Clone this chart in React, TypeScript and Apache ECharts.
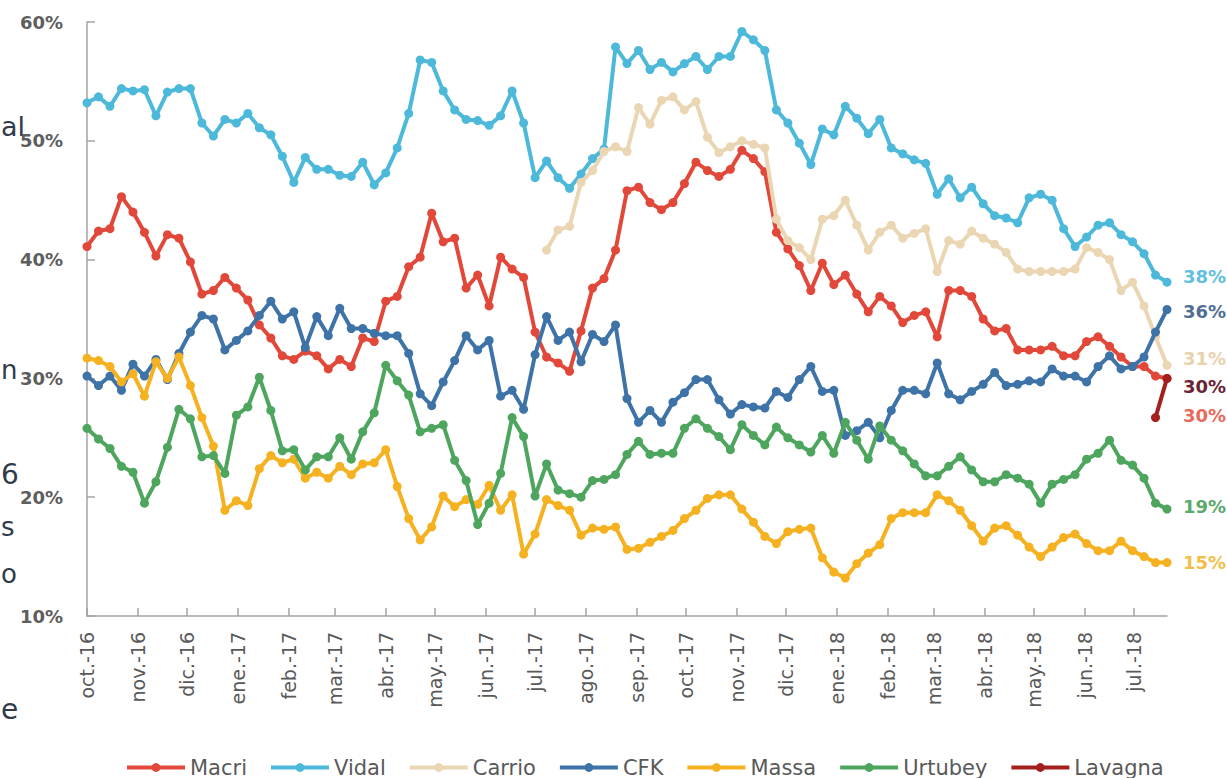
import React, { useEffect, useRef } from "react";
import * as echarts from "echarts";

// Month tick labels (first day of each month)
const monthLabels = [
  "oct.-16", "nov.-16", "dic.-16", "ene.-17", "feb.-17", "mar.-17", "abr.-17",
  "may.-17", "jun.-17", "jul.-17", "ago.-17", "sep.-17", "oct.-17", "nov.-17",
  "dic.-17", "ene.-18", "feb.-18", "mar.-18", "abr.-18", "may.-18", "jun.-18", "jul.-18",
];
const firstWeek = Date.UTC(2016, 9, 1); // weekly polls, first on 1 Oct 2016

const seriesNames = ["Macri", "Vidal", "Carrio", "CFK", "Massa", "Urtubey", "Lavagna"];

const macri = [
  41.1, 42.4, 42.6, 45.3, 44.0, 42.3, 40.3, 42.1, 41.8, 39.8, 37.1, 37.4, 38.5, 37.6, 36.6, 34.5, 33.4, 31.9, 31.6, 32.3, 31.9, 30.8, 31.6, 31.0, 33.4,
  33.1, 36.5, 36.9, 39.4, 40.2, 43.9, 41.5, 41.8, 37.6, 38.7, 36.1, 40.2, 39.2, 38.5, 33.9, 31.8, 31.3, 30.6, 34.0, 37.6, 38.4, 40.8, 45.8, 46.1,
  44.8, 44.2, 44.8, 46.4, 48.2, 47.5, 47.0, 47.6, 49.2, 48.5, 47.4, 42.3, 40.9, 39.5, 37.4, 39.7, 37.9, 38.7, 37.1, 35.6, 36.9, 36.1, 34.7, 35.3,
  35.6, 33.5, 37.4, 37.4, 36.9, 35.0, 34.0, 34.2, 32.4, 32.4, 32.4, 32.7, 31.9, 31.9, 33.1, 33.5, 32.7, 31.8, 31.0, 31.0, 30.2, 30.0,
];
const vidal = [
  53.2, 53.7, 52.9, 54.4, 54.2, 54.3, 52.1, 54.1, 54.4, 54.4, 51.5, 50.4, 51.8, 51.5, 52.3, 51.1, 50.5, 48.7, 46.5, 48.6, 47.6, 47.6, 47.1, 47.0, 48.2,
  46.3, 47.3, 49.4, 52.3, 56.8, 56.6, 54.2, 52.6, 51.8, 51.7, 51.3, 52.1, 54.2, 51.5, 46.9, 48.3, 46.9, 46.0, 47.2, 48.5, 49.3,
  57.9, 56.5, 57.6, 56.0, 56.6, 55.8, 56.5, 57.1, 56.0, 57.1, 57.1, 59.2, 58.5, 57.6, 52.6, 51.5, 49.8, 48.0, 51.0, 50.5, 52.9, 51.9, 50.6, 51.8, 49.4, 48.9, 48.4,
  48.1, 45.5, 46.8, 45.2, 46.1, 44.7, 43.7, 43.5, 43.1, 45.2, 45.5, 45.0, 42.6, 41.1, 41.9, 42.9, 43.1, 42.1, 41.5, 40.5, 38.7, 38.1,
];
const carrioStartWeek = 40;
const carrio = [
  40.8, 42.5, 42.8, 46.5, 47.5, 49.1, 49.5, 49.1, 52.8, 51.4,
  53.4, 53.7, 52.6, 53.3, 50.3, 49.0, 49.5, 50.0, 49.7, 49.4,
  43.4, 41.6, 41.0, 40.0, 43.4, 43.7, 45.0, 42.9, 40.8, 42.3,
  42.9, 41.8, 42.2, 42.6, 39.0, 41.6, 41.3, 42.4, 41.8, 41.3,
  40.6, 39.2, 39.0, 39.0, 39.0, 39.0, 39.2, 41.0, 40.6, 40.0,
  37.4, 38.1, 36.1, 33.5, 31.1,
];
const cfk = [
  30.2, 29.4, 30.2, 29.0, 31.2, 30.2, 31.6, 29.9, 32.1, 33.9, 35.3, 35.0, 32.4, 33.2, 34.0, 35.3, 36.5, 35.0, 35.6, 32.6, 35.2, 33.6, 35.9, 34.2, 34.2,
  33.8, 33.6, 33.6, 32.1, 28.7, 27.7, 29.7, 31.5, 33.6, 32.4, 33.2, 28.5, 29.0, 27.4, 32.0, 35.2, 33.2, 33.9, 31.4, 33.7, 33.1, 34.5, 28.3, 26.3,
  27.3, 26.3, 28.0, 28.8, 29.9, 29.9, 28.2, 27.0, 27.8, 27.6, 27.5, 28.9, 28.4, 29.9, 31.0, 28.9, 29.0, 25.2, 25.6, 26.3, 25.0, 27.3, 29.0, 29.0,
  28.7, 31.3, 28.7, 28.2, 28.9, 29.5, 30.5, 29.4, 29.5, 29.8, 29.7, 30.8, 30.2, 30.2, 29.7, 31.0, 31.9, 30.8, 31.0, 31.8, 33.9, 35.8,
];
const massa = [
  31.7, 31.5, 31.0, 29.7, 30.4, 28.5, 31.4, 30.0, 31.8, 29.4, 26.7, 24.3, 18.9, 19.7, 19.3, 22.4, 23.5, 22.9, 23.2, 21.6, 22.1, 21.6, 22.6, 21.9, 22.8,
  22.9, 24.0, 20.9, 18.2, 16.4, 17.5, 20.1, 19.2, 19.8, 19.4, 21.0, 18.9, 20.2, 15.2, 16.9, 19.8, 19.3, 18.9, 16.8, 17.4, 17.3, 17.5, 15.6, 15.7,
  16.2, 16.7, 17.2, 18.2, 18.9, 19.9, 20.2, 20.2, 19.0, 17.9, 16.7, 16.1, 17.1, 17.3, 17.4, 14.9, 13.7, 13.2, 14.4, 15.3, 16.0, 18.2, 18.7, 18.7,
  18.7, 20.2, 19.7, 18.9, 17.6, 16.3, 17.4, 17.6, 16.8, 15.8, 15.0, 15.8, 16.6, 16.9, 16.1, 15.5, 15.5, 16.3, 15.5, 15.0, 14.5, 14.5,
];
const urtubey = [
  25.8, 24.9, 24.1, 22.6, 22.1, 19.5, 21.3, 24.2, 27.4, 26.6, 23.4, 23.5, 22.0, 26.9, 27.6, 30.1, 27.3, 23.9, 24.0, 22.3, 23.4, 23.4, 25.0, 23.2, 25.5,
  27.1, 31.1, 29.8, 28.6, 25.5, 25.8, 26.1, 23.1, 21.4, 17.7, 19.5, 22.0, 26.7, 25.1, 20.1, 22.8, 20.6, 20.3, 20.0, 21.4, 21.5, 21.9, 23.6, 24.7,
  23.6, 23.7, 23.7, 25.8, 26.6, 25.8, 25.1, 24.0, 26.1, 25.2, 24.4, 25.9, 25.0, 24.4, 23.8, 25.2, 23.7, 26.3, 24.8, 23.2, 26.0, 24.8, 23.9, 22.8,
  21.8, 21.8, 22.6, 23.4, 22.3, 21.3, 21.3, 21.9, 21.6, 21.1, 19.5, 21.1, 21.5, 21.9, 23.2, 23.7, 24.8, 23.1, 22.7, 21.6, 19.5, 19.0,
];
const lavagnaStartWeek = 93;
const lavagna = [26.7, 30.0];

const endLabels = ["30%", "38%", "31%", "36%", "15%", "19%", "30%"];

// Fragments of slide text visible at the left edge of the picture
const sideFragments = ["al", "n", "6", "s", "o", "e"];

const colors = ["#E2483A", "#4DB9DA", "#EBD6B3", "#3E73A8", "#F5B120", "#4DA55E", "#A3201D"];
const labelColors = ["#E86A5C", "#62C0DE", "#E8D2AE", "#4F6F96", "#F1C04A", "#5BA96B", "#6B2431"];
const labelOffsetY = [37, -6, -7, 2, 0, -3, 8];
const fragmentPos = [
  { x: 1, y: 126, size: 27 },
  { x: 1, y: 370, size: 26 },
  { x: 1, y: 474, size: 28 },
  { x: 1, y: 527, size: 26 },
  { x: 1, y: 574, size: 26 },
  { x: 1, y: 709, size: 28 },
];

const FONT = "DejaVu Sans";
const DAY = 86400000;

const weekDay = (i: number) => i * 7;
const toPairs = (vals: number[], start: number) => vals.map((v, j) => [weekDay(start + j), v]);

export default function App() {
  const ref = useRef<HTMLDivElement>(null);

  useEffect(() => {
    if (!ref.current) return;
    const chart = echarts.init(ref.current, undefined, { renderer: "svg" });

    const monthDays = monthLabels.map((_, k) => Math.round((Date.UTC(2016, 9 + k, 1) - firstWeek) / DAY));
    const lastDay = weekDay(macri.length - 1);

    const allData = [
      toPairs(macri, 0),
      toPairs(vidal, 0),
      toPairs(carrio, carrioStartWeek),
      toPairs(cfk, 0),
      toPairs(massa, 0),
      toPairs(urtubey, 0),
      toPairs(lavagna, lavagnaStartWeek),
    ];

    const series = seriesNames.map((name, s) => ({
      name,
      type: "line",
      data: allData[s],
      symbol: "circle",
      symbolSize: 9,
      showAllSymbol: true,
      lineStyle: { width: 4, color: colors[s] },
      itemStyle: { color: colors[s] },
      z: 2 + s,
      endLabel: {
        show: true,
        formatter: () => endLabels[s],
        color: labelColors[s],
        fontFamily: FONT,
        fontWeight: "bold",
        fontSize: 18,
        distance: 16,
        offset: [0, labelOffsetY[s]],
      },
    }));

    chart.setOption({
      animation: false,
      backgroundColor: "#ffffff",
      color: colors,
      grid: { left: 87, right: 60, top: 22, bottom: 162, containLabel: false },
      xAxis: {
        type: "value",
        min: 0,
        max: lastDay,
        splitLine: { show: false },
        axisLine: { show: true, lineStyle: { color: "#A3A3A3", width: 1.5 } },
        axisTick: {
          show: true,
          inside: true,
          length: 8,
          customValues: monthDays,
          lineStyle: { color: "#A3A3A3", width: 1.5 },
        },
        axisLabel: {
          customValues: monthDays,
          rotate: 90,
          margin: 16,
          color: "#595959",
          fontFamily: FONT,
          fontSize: 19,
          formatter: (v: number) => {
            const k = monthDays.indexOf(Math.round(v));
            return k >= 0 ? monthLabels[k] : "";
          },
        },
      },
      yAxis: {
        type: "value",
        min: 10,
        max: 60,
        interval: 10,
        splitLine: { show: false },
        axisLine: { show: true, lineStyle: { color: "#A3A3A3", width: 1.5 } },
        axisTick: { show: true, inside: true, length: 8, lineStyle: { color: "#A3A3A3", width: 1.5 } },
        axisLabel: {
          margin: 24,
          color: "#5E5E5E",
          fontFamily: FONT,
          fontWeight: "bold",
          fontSize: 18,
          formatter: "{value}%",
        },
      },
      legend: {
        data: seriesNames,
        left: 120,
        top: 752,
        itemWidth: 58,
        itemHeight: 11,
        itemGap: 22,
        lineStyle: { width: 4 },
        textStyle: { color: "#595959", fontFamily: FONT, fontSize: 21 },
      },
      graphic: sideFragments.map((t, k) => ({
        type: "text",
        x: fragmentPos[k].x,
        y: fragmentPos[k].y,
        style: {
          text: t,
          fill: "#2F3B4A",
          font: `${fragmentPos[k].size}px ${FONT}`,
          textAlign: "left",
          textVerticalAlign: "middle",
        },
      })),
      series,
    });

    return () => chart.dispose();
  }, []);

  return (
    <div
      ref={ref}
      style={{ position: "fixed", left: 0, top: 0, width: 1227, height: 778, background: "#fff" }}
    />
  );
}
